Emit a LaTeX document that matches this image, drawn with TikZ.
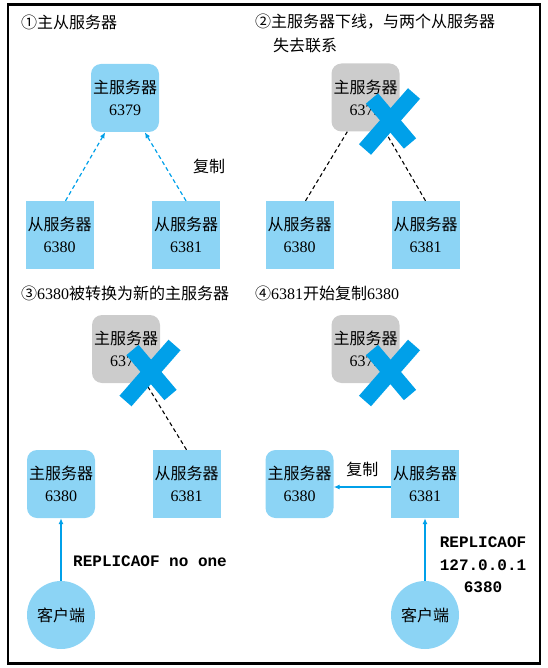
\documentclass[tikz,border=0pt]{standalone}
\usepackage{fontspec}
\setmainfont{Liberation Serif}
\setmonofont{Liberation Mono}
\newfontfamily\cjk{Noto Sans CJK SC}
\usetikzlibrary{arrows.meta}
\definecolor{boxblue}{RGB}{140,212,245}
\definecolor{crossblue}{RGB}{0,160,233}
\definecolor{downgray}{RGB}{204,204,204}

\begin{document}
\begin{tikzpicture}[x=1pt,y=-1pt,
    font=\fontsize{16}{22}\selectfont,
    >={Latex[length=6pt,width=5pt]},
    master/.style={fill=boxblue, rounded corners=10pt, minimum width=68pt, minimum height=68pt, inner sep=0pt, align=center},
    slave/.style={fill=boxblue, minimum width=68pt, minimum height=68pt, inner sep=0pt, align=center},
    offline/.style={master, fill=downgray},
    client/.style={circle, fill=boxblue, minimum size=68pt, inner sep=0pt},
    title/.style={anchor=west, inner sep=0pt},
    link/.style={black, dash pattern=on 4pt off 3pt, line width=1.1pt},
    repl/.style={crossblue, ->, dash pattern=on 4pt off 3pt, line width=1.2pt},
    cmd/.style={crossblue, ->, line width=1.6pt},
    cmdtext/.style={font=\fontsize{16}{22.5}\selectfont\ttfamily\bfseries, align=center, inner sep=0pt}]
    \useasboundingbox (0,0) rectangle (547,668);
    \draw[line width=2.2pt] (8,4.5) rectangle (540,663.5);

% panel 1
\node[title] (t1) at (21,22) {{\cjk ①主从服务器}};
\node[master] (m1) at (125,98) {{\cjk 主服务器}\\6379};
\node[slave] (s1a) at (59.5,235) {{\cjk 从服务器}\\6380};
\node[slave] (s1b) at (186,235) {{\cjk 从服务器}\\6381};
\draw[repl] (s1a.80) -- (m1.-120);
\draw[repl] (s1b.north) -- (m1.-60);
\node (c1) at (209,166) {{\cjk 复制}};

% panel 2
\node[title] (t2) at (255,22) {{\cjk ②主服务器下线，与两个从服务器}};
\node[title] (t2b) at (273,45) {{\cjk 失去联系}};
\node[offline] (m2) at (365.5,97.5) {{\cjk 主服务器}\\6379};
\node[slave] (s2a) at (299.5,235) {{\cjk 从服务器}\\6380};
\node[slave] (s2b) at (425.5,235) {{\cjk 从服务器}\\6381};
\draw[link] (s2a.80) -- (m2.-118);
\draw[link] (s2b.north) -- (m2.-60);

% panel 3
\node[title] (t3) at (21,293) {{\cjk ③}6380{\cjk 被转换为新的主服务器}};
\node[offline] (m3) at (126,349) {{\cjk 主服务器}\\6379};
\node[master] (n3) at (61,484) {{\cjk 主服务器}\\6380};
\node[slave] (s3) at (186.5,484) {{\cjk 从服务器}\\6381};
\node[client] (k3) at (61,615) {{\cjk 客户端}};
\draw[link] (s3.north) -- (m3.-60);
\draw[cmd] (k3) -- (n3);
\node[cmdtext, anchor=west] (r3) at (73,561) {REPLICAOF no one};

% panel 4
\node[title] (t4) at (255,293) {{\cjk ④}6381{\cjk 开始复制}6380};
\node[offline] (m4) at (365.5,349) {{\cjk 主服务器}\\6379};
\node[master] (n4) at (299.5,484) {{\cjk 主服务器}\\6380};
\node[slave] (s4) at (425,484) {{\cjk 从服务器}\\6381};
\node[client] (k4) at (425,615) {{\cjk 客户端}};
\draw[cmd] ([yshift=-3pt]s4.west) -- node[above=6pt, text=black] (c4) {{\cjk 复制}} ([yshift=-3pt]n4.east);
\draw[cmd] (k4) -- (s4);
\node[cmdtext] (r4) at (483,565) {REPLICAOF\\127.0.0.1\\6380};

% the crosses over the lost master
\foreach \cx/\cy in {390/120.5, 150.5/372, 390/372} {
  \draw[crossblue, line width=16pt] (\cx+24,\cy-27) -- (\cx-25,\cy+29);
  \draw[crossblue, line width=16pt] (\cx-18,\cy-22) -- (\cx+20,\cy+23);
}

\end{tikzpicture}
\end{document}
